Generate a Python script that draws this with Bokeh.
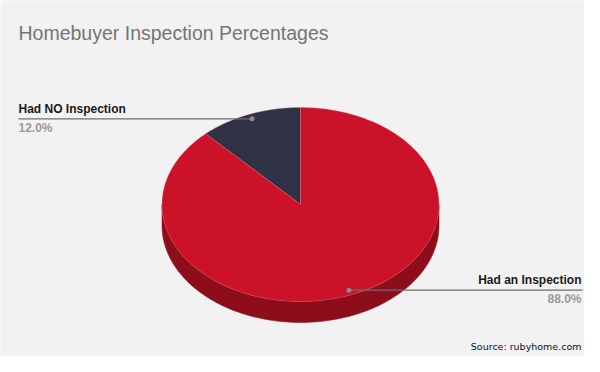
import numpy as np
from bokeh.plotting import figure
from bokeh.models import Range1d
from bokeh.core.properties import value
from bokeh.embed import file_html
from bokeh.resources import INLINE

# ---- data ----
categories = ["Had NO Inspection", "Had an Inspection"]
percentages = [12.0, 88.0]
pct_labels = ["12.0%", "88.0%"]
top_colors = ["#2e3244", "#cc1228"]
side_colors = ["#1f2230", "#8e0d1b"]
title_text = "Homebuyer Inspection Percentages"
source_text = "Source: rubyhome.com"

W, H = 584, 356
p = figure(width=W, height=H, output_backend="svg", toolbar_location=None,
           x_range=Range1d(0, W), y_range=Range1d(H, 0),
           min_border=0, tools="")
p.axis.visible = False
p.grid.visible = False
p.outline_line_color = None
p.background_fill_color = "#f2f2f2"
p.border_fill_color = "#f2f2f2"

cx, cy, rx, ry, depth = 300.0, 204.0, 138.5, 97.0, 21.0

vals = np.array(percentages)
frac = vals / vals.sum()
start = 90.0
starts, ends = [], []
for f in frac:
    starts.append(start)
    ends.append(start + f * 360.0)
    start += f * 360.0

# side (visible front half: angles 180..360 modulo)
for s, e, col in zip(starts, ends, side_colors):
    for off in (0.0, 360.0, -360.0):
        a0 = max(s + off, 180.0)
        a1 = min(e + off, 360.0)
        if a1 > a0:
            t = np.radians(np.linspace(a0, a1, 120))
            xt = cx + rx * np.cos(t)
            yt = cy - ry * np.sin(t)
            xs = np.concatenate([xt, xt[::-1]])
            ys = np.concatenate([yt, (yt + depth)[::-1]])
            p.patch(xs, ys, fill_color=col, line_color=col, line_width=0.5)

# top wedges
for s, e, col in zip(starts, ends, top_colors):
    t = np.radians(np.linspace(s, e, 200))
    xs = np.concatenate([[cx], cx + rx * np.cos(t)])
    ys = np.concatenate([[cy], cy - ry * np.sin(t)])
    p.patch(xs, ys, fill_color=col, line_color="#e07080", line_width=0.6, line_alpha=0.6)

# leader lines, dots and labels
font = value("Liberation Sans")
for i, (s, e) in enumerate(zip(starts, ends)):
    mid = np.radians((s + e) / 2.0)
    dx = cx + 0.95 * rx * np.cos(mid)
    dy = cy - 0.95 * ry * np.sin(mid)
    if np.cos(mid) < 0:
        lx0, lx1, tx, align = 18, dx, 18, "left"
    else:
        lx0, lx1, tx, align = dx, 582, 581, "right"
    p.line([lx0, lx1], [dy, dy], line_color="#6e6e6e", line_width=1.3)
    p.scatter([dx], [dy], size=5, fill_color="#8a8a8a", line_color=None)
    p.text([tx], [dy - 3], text=[categories[i]], text_font=font, text_font_style="bold",
           text_font_size="12px", text_color="#1a1a1a", text_align=align, text_baseline="bottom")
    p.text([tx], [dy + 2], text=[pct_labels[i]], text_font=font, text_font_style="bold",
           text_font_size="12px", text_color="#9a9a9a", text_align=align, text_baseline="top")

p.text([18], [32], text=[title_text], text_font=font, text_font_size="19.5px",
       text_color="#757575", text_align="left", text_baseline="middle")
p.text([581], [346], text=[source_text], text_font=value("DejaVu Sans"), text_font_size="9.5px",
       text_color="#111111", text_align="right", text_baseline="middle")

open("out.html", "w").write(file_html(p, INLINE))
